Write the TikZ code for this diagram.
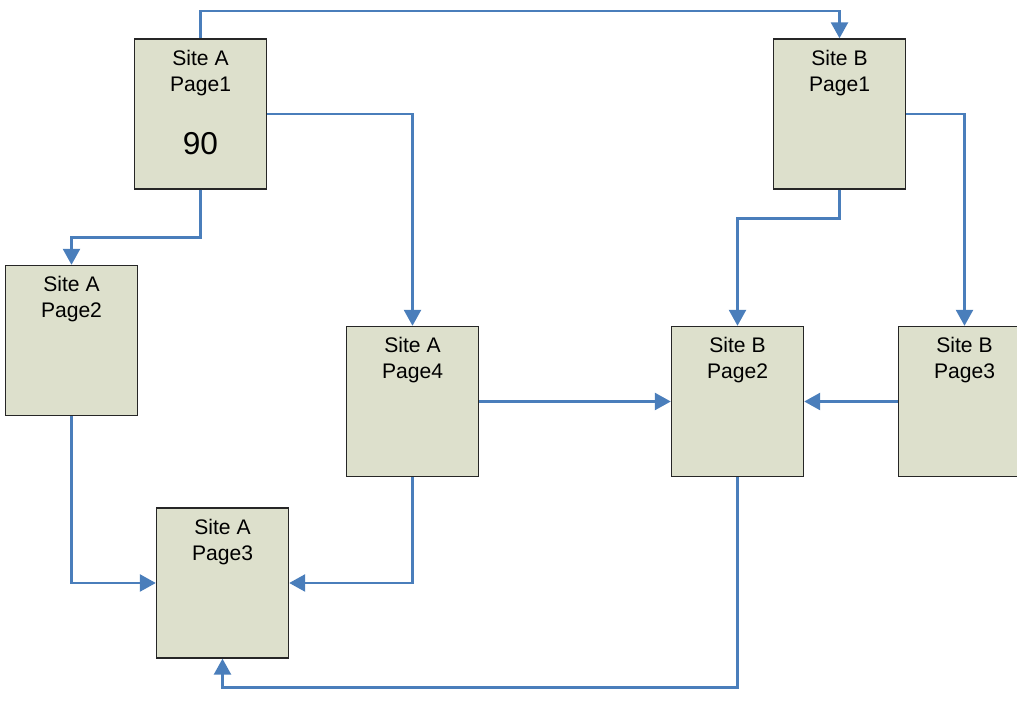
\documentclass[tikz,border=0pt]{standalone}
\usepackage{fontspec}
\setmainfont{Liberation Sans}
\usepackage{tikz}
\usetikzlibrary{arrows.meta,positioning,calc}
\definecolor{pagefill}{HTML}{DDE0CC}
\definecolor{linkblue}{HTML}{4A7EBB}
\newcommand{\pg}[1]{\parbox[t][2.56cm][t]{2.2cm}{\centering #1}}
\tikzset{
  pagebox/.style={rectangle, draw=black!85, line width=0.8pt, fill=pagefill,
                  minimum width=2.58cm, minimum height=3cm, inner sep=0.22cm,
                  font=\fontsize{12}{14.7}\selectfont},
  arr/.style={-{Triangle[length=3.2mm,width=3.4mm]}, line width=1.5pt, draw=linkblue},
}
\begin{document}
\begin{tikzpicture}
    \useasboundingbox (0,0) rectangle (20.34,-14.3);
    \clip (0,0) rectangle (20.34,-14.3);
    % Site A
    \node[pagebox] (sa1) at (4.01,-2.28)
      {\pg{Site A\\Page1\\[20pt]{\fontsize{18}{22}\selectfont 90}}};
    \node[pagebox] (sa2) at (1.43,-6.81) {\pg{Site A\\Page2}};
    \node[pagebox] (sa4) at (8.25,-8.03) {\pg{Site A\\Page4}};
    \node[pagebox] (sa3) at (4.45,-11.66) {\pg{Site A\\Page3}};
    % Site B
    \node[pagebox] (sb1) at (16.79,-2.28) {\pg{Site B\\Page1}};
    \node[pagebox] (sb2) at (14.75,-8.03) {\pg{Site B\\Page2}};
    \node[pagebox] (sb3) at (19.29,-8.03) {\pg{Site B\\Page3}};
    \coordinate (top) at (0,-0.22);
    % Liens
    \draw[arr] (sa1.north) -- (sa1.north |- top) -| (sb1.north);
    \draw[arr] (sa1.south) -- ++(0,-0.96) -| (sa2.north);
    \draw[arr] (sa1.east) -| (sa4.north);
    \draw[arr] (sa2.south) |- (sa3.west);
    \draw[arr] (sa4.south) |- (sa3.east);
    \draw[arr] (sa4.east) -- (sb2.west);
    \draw[arr] (sb1.south) -- ++(0,-0.58) -| (sb2.north);
    \draw[arr] (sb1.east) -| (sb3.north);
    \draw[arr] (sb3.west) -- (sb2.east);
    \draw[arr] (sb2.south) -- ++(0,-4.2) -| (sa3.south);
  \end{tikzpicture}
\end{document}
